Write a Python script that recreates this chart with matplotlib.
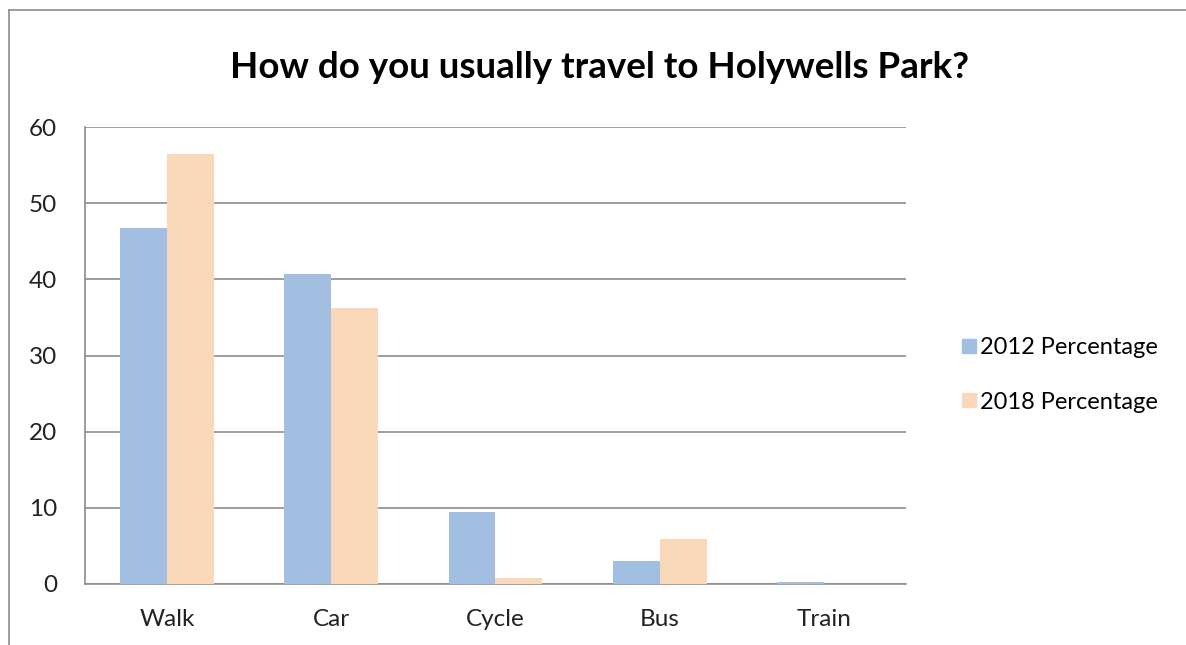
import matplotlib
matplotlib.use("Agg")
import matplotlib.pyplot as plt
import numpy as np
from matplotlib.lines import Line2D

# chart data
categories = ["Walk", "Car", "Cycle", "Bus", "Train"]
pct_2012 = [46.8, 40.7, 9.4, 3.0, 0.2]
pct_2018 = [56.4, 36.2, 0.8, 5.9, 0.0]
series_names = ["2012 Percentage", "2018 Percentage"]
yticks = [0, 10, 20, 30, 40, 50, 60]

blue = "#A2BEE1"
peach = "#F9D8B9"
grid_col = "#8C8C8C"

plt.rcParams['font.family'] = ['Lato', 'DejaVu Sans']

fig = plt.figure(figsize=(11.86, 6.45), dpi=100)
W, H = 1186, 645
ax = fig.add_axes([85 / W, 1 - 584 / H, (906 - 85) / W, (584 - 127) / H])

x = np.arange(len(categories))
bw = 0.286
ax.bar(x - bw / 2, pct_2012, bw, color=blue, label=series_names[0], zorder=3)
ax.bar(x + bw / 2, pct_2018, bw, color=peach, label=series_names[1], zorder=3)

ax.set_xlim(-0.5, len(categories) - 0.5)
ax.set_ylim(0, 60)
ax.set_yticks(yticks)
ax.set_xticks(x)
ax.set_xticklabels(categories)
ax.yaxis.grid(True, color=grid_col, lw=1.2, zorder=0)
for s in ["top", "right"]:
    ax.spines[s].set_visible(False)
for s in ["left", "bottom"]:
    ax.spines[s].set_color(grid_col)
    ax.spines[s].set_linewidth(1.2)
ax.tick_params(axis="both", length=0, labelsize=17.5, colors="#222222")
ax.tick_params(axis="y", pad=20)
ax.tick_params(axis="x", pad=18)

fig.text(600 / W, 1 - 68 / H, "How do you usually travel to Holywells Park?",
         ha="center", va="center", fontsize=26.5, fontweight="bold")

handles = [Line2D([], [], marker="s", ls="", color=blue, markersize=10.5),
           Line2D([], [], marker="s", ls="", color=peach, markersize=10.5)]
fig.legend(handles, series_names, loc="center left", bbox_to_anchor=(938 / W, 1 - 375 / H),
           frameon=False, fontsize=17, handletextpad=0.1, labelspacing=1.42,
           handlelength=0.8)

# outer chart border (top and left edges visible)
fig.add_artist(Line2D([9 / W, 9 / W], [0, 1 - 10 / H], color="#8C8C8C", lw=1.2))
fig.add_artist(Line2D([9 / W, 1], [1 - 10 / H, 1 - 10 / H], color="#8C8C8C", lw=1.2))

fig.savefig("out.png", dpi=100)
